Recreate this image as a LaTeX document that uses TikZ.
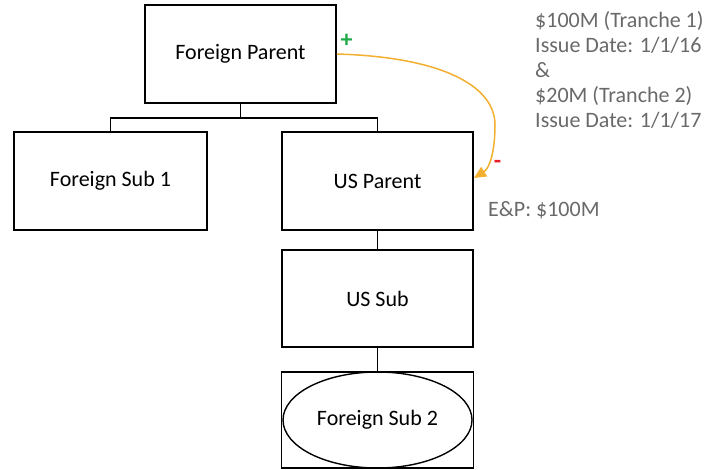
\documentclass[tikz,border=0pt]{standalone}
\usepackage{fontspec}
\setmainfont{Carlito}
\usetikzlibrary{shapes.geometric,arrows.meta}
\definecolor{arrowor}{RGB}{243,176,48}
\definecolor{txtgray}{RGB}{105,105,105}
\definecolor{plusgreen}{RGB}{30,170,70}
\definecolor{minusred}{RGB}{230,30,40}
\tikzset{
  box/.style={draw=black, line width=1.7pt, minimum width=191pt, minimum height=98pt, inner sep=0pt, font=\fontsize{22}{26}\selectfont},
  oval/.style={draw=black, line width=1.4pt, ellipse, minimum width=189pt, minimum height=96pt, inner sep=0pt, font=\fontsize{22}{26}\selectfont},
  conn/.style={line width=1.7pt, black},
  note/.style={text=txtgray, font=\fontsize{22}{25}\selectfont, inner sep=0pt, align=left},
  loan/.style={draw=arrowor, line width=1.5pt, -{Triangle[length=12pt,width=11pt]}}
}
\begin{document}
\begin{tikzpicture}[x=1pt,y=-1pt]
\useasboundingbox (0,0) rectangle (719,470);
\node[box] (fp) at (240.5,54) {Foreign Parent};
\node[box, minimum width=193pt] (fs1) at (110.5,181) {Foreign Sub 1};
\node[box] (usp) at (377.5,181) {US Parent};
\node[box, minimum height=97pt] (uss) at (377.5,298.5) {US Sub};
\node[box, minimum width=192pt, minimum height=96pt, line width=1.4pt] (fs2box) at (377.5,420) {};
\node[oval] (fs2) at (377.5,420) {Foreign Sub 2};
\coordinate (bus) at (240.5,118);
\draw[conn] (fp.south) -- (bus);
\draw[conn] (fs1.north) |- (bus) -| (usp.north);
\draw[conn] (usp.south) -- (uss.north);
\draw[conn] (uss.south) -- (fs2box.north);
\coordinate (ls) at (fp.east);
\coordinate (le) at (474,178);
\draw[loan] (ls) .. controls (440,57) and (495,85) .. (495,125) .. controls (495,150) and (490,168) .. (le);
\node[text=plusgreen, font=\fontsize{24}{24}\selectfont\bfseries] (plus) at (346.5,41) {+};
\node[text=minusred, font=\fontsize{24}{24}\selectfont\bfseries] (minus) at (497.5,164) {-};
\node[note, anchor=base west] (t1) at (535,28) {\$100M (Tranche 1)};
\node[note, anchor=base west] (t2) at (535,53) {Issue Date: 1/1/16};
\node[note, anchor=base west] (t3) at (535,78) {\&};
\node[note, anchor=base west] (t4) at (535,103) {\$20M (Tranche 2)};
\node[note, anchor=base west] (t5) at (535,128) {Issue Date: 1/1/17};
\node[note, anchor=base west] (ep) at (488,217) {E\&P: \$100M};
\end{tikzpicture}
\end{document}
